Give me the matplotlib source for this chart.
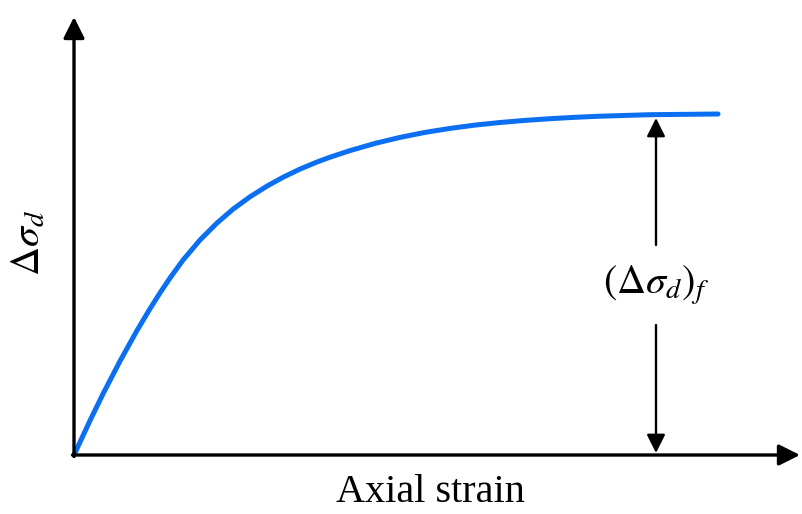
import matplotlib
matplotlib.use("Agg")
import matplotlib.pyplot as plt

plt.rcParams['font.family'] = ['Liberation Serif', 'DejaVu Serif']
plt.rcParams['mathtext.fontset'] = 'stix'

# stress-strain curve (arbitrary units)
strain = [0.00, 0.16, 0.29, 0.46, 0.63, 0.76, 0.86, 0.96, 1.09, 1.26,
          1.43, 1.59, 1.76, 1.93, 2.09, 2.26, 2.43, 2.56, 2.76, 3.01,
          3.26, 3.51, 3.76, 4.01, 4.26, 4.51, 4.76, 5.01, 5.26, 5.76, 6.44]
dev_stress = [0.000, 0.344, 0.611, 0.939, 1.245, 1.463, 1.621, 1.770, 1.949, 2.150,
              2.320, 2.458, 2.582, 2.689, 2.777, 2.859, 2.930, 2.978, 3.044, 3.116,
              3.176, 3.226, 3.266, 3.299, 3.325, 3.346, 3.363, 3.377, 3.388, 3.403, 3.410]

failure_strain = 5.82
failure_stress = 3.37

fig = plt.figure(figsize=(8.02, 5.14), dpi=100)
ax = fig.add_axes([0, 0, 1, 1])
ax.set_xlim(-0.74, 7.28)
ax.set_ylim(-0.59, 4.55)
ax.axis('off')

# axes with arrow heads
axis_arrow = dict(arrowstyle='-|>', color='black', lw=2.4, mutation_scale=32,
                  shrinkA=0, shrinkB=0)
ax.annotate('', xy=(0, 4.38), xytext=(0, -0.015), arrowprops=axis_arrow)
ax.annotate('', xy=(7.26, 0), xytext=(-0.015, 0), arrowprops=axis_arrow)

ax.plot(strain, dev_stress, color='#0a6ff0', lw=3.6, solid_capstyle='round',
        solid_joinstyle='round')

# failure dimension arrow
label_y = 1.70
dim_arrow = dict(arrowstyle='-|>', color='black', lw=1.7, mutation_scale=28,
                 shrinkA=0, shrinkB=0)
ax.annotate('', xy=(failure_strain, failure_stress), xytext=(failure_strain, label_y + 0.40),
            arrowprops=dim_arrow)
ax.annotate('', xy=(failure_strain, 0.02), xytext=(failure_strain, label_y - 0.40),
            arrowprops=dim_arrow)
ax.text(failure_strain, label_y, r'$(\Delta\sigma_d)_f$', fontsize=29,
        ha='center', va='center')

ax.text(-0.44, 2.12, r'$\Delta\sigma_d$', fontsize=29, rotation=90,
        ha='center', va='center')
ax.text(3.56, -0.37, 'Axial strain', fontsize=29, ha='center', va='center')

fig.savefig('out.png', dpi=100)
